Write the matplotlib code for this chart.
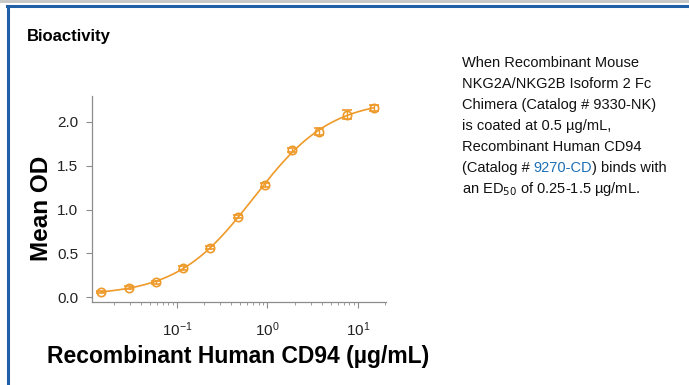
import numpy as np
import matplotlib.pyplot as plt
from matplotlib.patches import Rectangle
from matplotlib.lines import Line2D
from matplotlib.ticker import LogLocator, NullFormatter

# concentration (ug/mL), mean OD and error
conc = [0.0146, 0.0293, 0.0586, 0.117, 0.234, 0.469, 0.9375, 1.875, 3.75, 7.5, 15.0]
mean_od = [0.057, 0.107, 0.168, 0.331, 0.564, 0.918, 1.28, 1.68, 1.886, 2.084, 2.16]
err = [0.015, 0.02, 0.015, 0.02, 0.02, 0.02, 0.02, 0.02, 0.04, 0.05, 0.035]

orange = "#EE9A2A"
axis_gray = "#8c8c8c"
tick_font = ["Liberation Sans Narrow", "Liberation Sans", "DejaVu Sans"]
sans = ["Liberation Sans", "DejaVu Sans"]

# 4PL fit: grid over ec50/hill, linear solve for bottom/top
x = np.array(conc)
y = np.array(mean_od)
best = None
for ec50 in np.logspace(-1, 1, 300):
    for h in np.linspace(0.5, 2.0, 151):
        s = 1.0 / (1.0 + (ec50 / x) ** h)
        A = np.vstack([np.ones_like(s), s]).T
        coef, res, _, _ = np.linalg.lstsq(A, y, rcond=None)
        r = np.sum((A @ coef - y) ** 2)
        if best is None or r < best[0]:
            best = (r, ec50, h, coef)
_, ec50, h, coef = best
xf = np.logspace(np.log10(x[0]), np.log10(x[-1]), 300)
yf = coef[0] + coef[1] / (1.0 + (ec50 / xf) ** h)

fig = plt.figure(figsize=(6.89, 3.85), dpi=100)

# page frame
fig.add_artist(Rectangle((0, 1 - 3 / 385), 1, 3 / 385, transform=fig.transFigure,
                         color="#c8c8c8", lw=0))
fig.add_artist(Line2D([7 / 689, 1], [1 - 5.5 / 385] * 2, transform=fig.transFigure,
                      color="#1f5fa6", lw=2.2))
fig.add_artist(Line2D([7.5 / 689] * 2, [0, 1 - 5.5 / 385], transform=fig.transFigure,
                      color="#1f5fa6", lw=2.2))

ax = fig.add_axes([92 / 689, 83 / 385, 294 / 689, 206 / 385])
ax.plot(xf, yf, color=orange, lw=1.2)
ax.errorbar(conc, mean_od, yerr=err, fmt="o", mfc="none", mec=orange, ms=6, mew=1.2,
            ecolor=orange, elinewidth=1.0, capsize=3.5, capthick=1.2)

ax.set_xscale("log")
ax.set_xlim(0.0115, 20.4)
ax.set_ylim(-0.057, 2.297)
ax.set_yticks([0.0, 0.5, 1.0, 1.5, 2.0])
ax.set_yticklabels(["0.0", "0.5", "1.0", "1.5", "2.0"])
ax.xaxis.set_major_locator(LogLocator(base=10, numticks=10))
ax.xaxis.set_minor_locator(LogLocator(base=10, subs=np.arange(2, 10), numticks=10))
ax.xaxis.set_minor_formatter(NullFormatter())
for side in ["top", "right"]:
    ax.spines[side].set_visible(False)
for side in ["left", "bottom"]:
    ax.spines[side].set_color(axis_gray)
    ax.spines[side].set_linewidth(0.9)
ax.tick_params(axis="both", which="both", color=axis_gray, labelcolor="#222222")
ax.tick_params(axis="y", length=4, width=0.8, pad=6)
ax.tick_params(axis="x", which="major", length=4, width=0.8, pad=9)
ax.tick_params(axis="x", which="minor", length=2.5, width=0.6)
for lab in ax.get_xticklabels() + ax.get_yticklabels():
    lab.set_family(tick_font)
    lab.set_fontsize(11)

fig.text(27 / 689, 1 - 37 / 385, "Bioactivity", fontsize=12, fontweight="bold",
         family=sans, va="center", ha="left")
fig.text(42 / 689, 1 - 208 / 385, "Mean OD", fontsize=17.5, fontweight="bold", rotation=90,
         family=sans, va="center", ha="center")
fig.text(238 / 689, 1 - 357 / 385, "Recombinant Human CD94 (\u00b5g/mL)", fontsize=16.5,
         fontweight="bold", family=sans, va="center", ha="center")

# description text
desc = ["When Recombinant Mouse",
        "NKG2A/NKG2B Isoform 2 Fc",
        "Chimera (Catalog # 9330-NK)",
        "is coated at 0.5 \u00b5g/mL,",
        "Recombinant Human CD94"]
tkw = dict(fontsize=10.5, family=sans, color="#111111", va="baseline", ha="left")
x0 = 462 / 689
for i, line in enumerate(desc):
    fig.text(x0, 1 - (67 + 21 * i) / 385, line, **tkw)
t1 = fig.text(x0, 1 - (67 + 21 * 5) / 385, "(Catalog # ", **tkw)
t2 = fig.text(0, 0, "9270-CD", **{**tkw, "color": "#1f6fb5"})
t3 = fig.text(0, 0, ") binds with", **tkw)
fig.canvas.draw()
r = fig.canvas.get_renderer()
bb1 = t1.get_window_extent(r).transformed(fig.transFigure.inverted())
t2.set_position((bb1.x1, 1 - (67 + 21 * 5) / 385))
fig.canvas.draw()
bb2 = t2.get_window_extent(r).transformed(fig.transFigure.inverted())
t3.set_position((bb2.x1, 1 - (67 + 21 * 5) / 385))
fig.text(x0, 1 - (67 + 21 * 6) / 385, "an ED$_{50}$ of 0.25-1.5 \u00b5g/mL.", **tkw)

fig.savefig("out.png", dpi=100)
